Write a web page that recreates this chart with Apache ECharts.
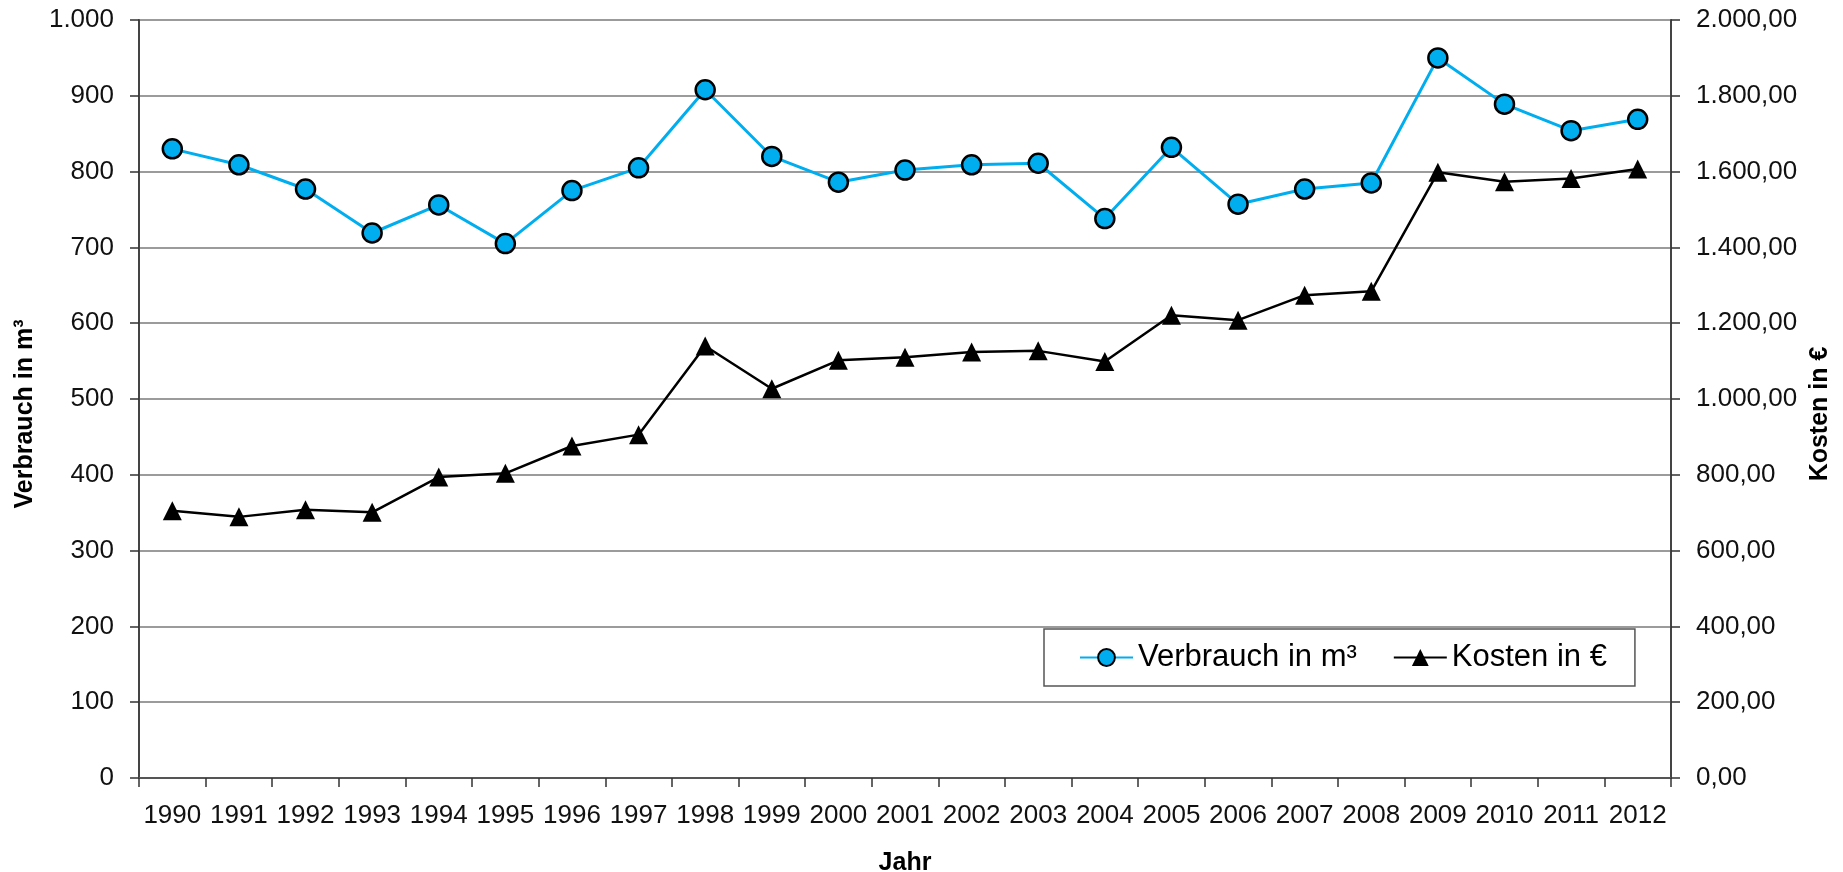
<!DOCTYPE html>
<html>
<head>
<meta charset="utf-8" />
<title>Verbrauch und Kosten</title>
<script src="https://cdn.jsdelivr.net/npm/echarts@6/dist/echarts.min.js"></script>
<style>
  html, body { margin: 0; padding: 0; background: #fff; }
  #chart { width: 1843px; height: 872px; }
</style>
</head>
<body>
<div id="chart"></div>
<script>
const years = ["1990", "1991", "1992", "1993", "1994", "1995", "1996", "1997", "1998", "1999", "2000",
  "2001", "2002", "2003", "2004", "2005", "2006", "2007", "2008", "2009", "2010", "2011", "2012"];

// Verbrauch in m³ (linke Achse)
const verbrauch = [830, 809, 777, 719, 756, 705, 775, 805, 908, 820, 786,
  802, 809, 811, 738, 832, 757, 777, 785, 950, 889, 854, 869];

// Kosten in € (rechte Achse)
const kosten = [705, 689, 708, 701, 794, 804, 876, 906, 1140, 1027, 1102,
  1110, 1124, 1127, 1099, 1221, 1208, 1274, 1284, 1598, 1573, 1582, 1607];

const fontFamily = "'Liberation Sans', Arial, sans-serif";

function groupDe(intPart) {
  return intPart.replace(/\B(?=(\d{3})+(?!\d))/g, ".");
}

const chart = echarts.init(document.getElementById("chart"));

chart.setOption({
  animation: false,
  textStyle: { fontFamily: fontFamily, color: "#000" },
  grid: {
    left: 139,
    right: 172,
    top: 20,
    bottom: 94,
    containLabel: false,
    outerBoundsMode: "none",
  },
  legend: {
    data: ["Verbrauch in m³", "Kosten in €"],
    left: 1044,
    top: 629,
    orient: "horizontal",
    backgroundColor: "#fff",
    borderColor: "#555",
    borderWidth: 1.5,
    padding: [13, 28, 13, 35],
    itemGap: 36,
    itemWidth: 53,
    itemHeight: 21,
    textStyle: {
      fontFamily: fontFamily,
      fontSize: 31,
      color: "#000",
    },
  },
  xAxis: {
    type: "category",
    data: years,
    boundaryGap: true,
    name: "Jahr",
    nameLocation: "middle",
    nameGap: 73,
    nameTextStyle: {
      fontFamily: fontFamily,
      fontWeight: "bold",
      fontSize: 25,
      color: "#000",
    },
    axisLine: { lineStyle: { color: "#555", width: 2 } },
    axisTick: { show: true, length: 9, lineStyle: { color: "#333", width: 1.5 } },
    axisLabel: {
      margin: 25,
      fontSize: 26,
      color: "#111",
      interval: 0,
    },
    splitLine: { show: false },
  },
  yAxis: [
    {
      type: "value",
      min: 0,
      max: 1000,
      interval: 100,
      position: "left",
      name: "Verbrauch in m³",
      nameLocation: "middle",
      nameRotate: 90,
      nameGap: 100,
      nameTextStyle: {
        fontFamily: fontFamily,
        fontWeight: "bold",
        fontSize: 25,
        color: "#000",
        padding: [0, 30, 0, 0],
      },
      axisLine: { show: true, lineStyle: { color: "#444", width: 2 } },
      axisTick: { show: true, length: 9, lineStyle: { color: "#333", width: 1.5 } },
      axisLabel: {
        margin: 25,
        fontSize: 26,
        color: "#111",
        formatter: (v) => groupDe(String(v)),
      },
      splitLine: { show: true, lineStyle: { color: "#7a7a7a", width: 1.5 } },
    },
    {
      type: "value",
      min: 0,
      max: 2000,
      interval: 200,
      position: "right",
      name: "Kosten in €",
      nameLocation: "middle",
      nameRotate: 90,
      nameGap: 130,
      nameTextStyle: {
        fontFamily: fontFamily,
        fontWeight: "bold",
        fontSize: 25,
        color: "#000",
        padding: [0, 30, 0, 0],
      },
      axisLine: { show: true, lineStyle: { color: "#444", width: 2 } },
      axisTick: { show: true, length: 9, lineStyle: { color: "#333", width: 1.5 } },
      axisLabel: {
        margin: 25,
        fontSize: 26,
        color: "#111",
        formatter: (v) => {
          const parts = v.toFixed(2).split(".");
          return groupDe(parts[0]) + "," + parts[1];
        },
      },
      splitLine: { show: false },
    },
  ],
  series: [
    {
      name: "Verbrauch in m³",
      type: "line",
      yAxisIndex: 0,
      data: verbrauch,
      symbol: "circle",
      symbolSize: 19,
      itemStyle: {
        color: "#00aeef",
        borderColor: "#000",
        borderWidth: 2.5,
      },
      lineStyle: { color: "#00aeef", width: 3 },
    },
    {
      name: "Kosten in €",
      type: "line",
      yAxisIndex: 1,
      data: kosten,
      symbol: "triangle",
      symbolSize: 19,
      itemStyle: {
        color: "#000",
      },
      lineStyle: { color: "#000", width: 2.5 },
    },
  ],
});
</script>
</body>
</html>
